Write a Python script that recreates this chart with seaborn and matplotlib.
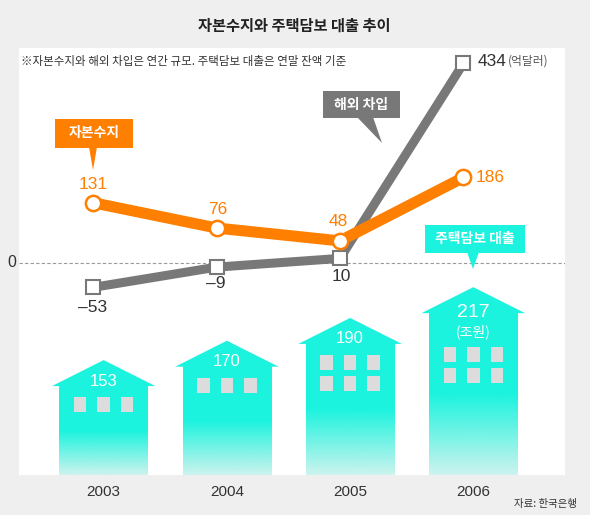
import numpy as np
import pandas as pd
import matplotlib
matplotlib.use("Agg")
import matplotlib.pyplot as plt
from matplotlib.patches import Polygon, Rectangle
from matplotlib.colors import LinearSegmentedColormap
from matplotlib import font_manager
import seaborn as sns

years = ["2003", "2004", "2005", "2006"]
capital_balance = [131, 76, 48, 186]      # 자본수지 (억달러)
foreign_borrowing = [-53, -9, 10, 434]    # 해외 차입 (억달러)
mortgage_loans = [153, 170, 190, 217]     # 주택담보 대출 (조원)
window_rows = [1, 1, 2, 2]

ORANGE = "#ff7f00"
GRAY = "#787878"
CYAN = "#1cf3de"
BG = "#efefef"
DARK = "#333333"

sns.set_theme(style="white")
kr = ["Noto Sans CJK KR", "DejaVu Sans"]
installed = {f.name for f in font_manager.fontManager.ttflist}
num = ["Liberation Sans Narrow"] if "Liberation Sans Narrow" in installed else ["Liberation Sans"]
plt.rcParams["font.family"] = kr

W, H = 590, 515
fig = plt.figure(figsize=(W / 100, H / 100), dpi=100, facecolor=BG)


def P(x, y):  # pixel position (from top-left) -> figure fraction
    return (x / W, 1 - y / H)


# panel = white area of the chart
left, right, top, bottom = 19, 565, 48, 475
rect = [left / W, 1 - bottom / H, (right - left) / W, (bottom - top) / H]

# ---- houses (mortgage loans) ----
ax_h = fig.add_axes(rect, facecolor="white")
sns.barplot(x=years, y=mortgage_loans, ax=ax_h, color=CYAN, saturation=1, width=0.72)
ax_h.set_xlim(-0.687, 3.744)
ax_h.set_ylim(75, 449.6)
y0 = ax_h.get_ylim()[0]

grad = LinearSegmentedColormap.from_list("house", [(0, "#cdf3ee"), (0.5, CYAN), (1, CYAN)])
roof_w, roof_h = 0.84, 22.8
win_w, win_h, win_dx, win_step = 0.102, 13.2, 0.191, 18.4

for i, bar in enumerate(ax_h.patches):
    x0, w, v = bar.get_x(), bar.get_width(), bar.get_height()
    bar.set_visible(False)
    ax_h.imshow(np.linspace(0, 1, 256).reshape(-1, 1), cmap=grad, origin="lower",
                extent=[x0, x0 + w, y0, v], aspect="auto", zorder=1)
    cx = x0 + w / 2
    ax_h.add_patch(Polygon([(cx - roof_w / 2, v), (cx, v + roof_h), (cx + roof_w / 2, v)],
                           closed=True, color=CYAN, lw=0, zorder=1))
    gap = 29.8 if i == len(mortgage_loans) - 1 else 9.6
    for r in range(window_rows[i]):
        wy = v - gap - r * win_step - win_h
        for k in (-1, 0, 1):
            ax_h.add_patch(Rectangle((cx + k * win_dx - win_w / 2, wy), win_w, win_h,
                                     color="#dcdcdc", lw=0, zorder=2))
    last = i == len(mortgage_loans) - 1
    ax_h.annotate(str(mortgage_loans[i]), xy=(cx, v), xytext=(0, 1 if last else 5),
                  textcoords="offset pixels", ha="center", va="center", color="white",
                  fontsize=14 if last else 12, family=num, zorder=3)
    if last:
        ax_h.annotate("(조원)", xy=(cx, v), xytext=(0, -19), textcoords="offset pixels",
                      ha="center", va="center", color="white", fontsize=10, zorder=3)

ax_h.set_ylabel("")
ax_h.set_yticks([])
ax_h.tick_params(axis="x", length=0, pad=7, labelsize=11, labelcolor=DARK)
for lab in ax_h.get_xticklabels():
    lab.set_family(num)
sns.despine(ax=ax_h, left=True, bottom=True)

# ---- lines (capital balance / foreign borrowing) ----
ax_l = fig.add_axes(rect, facecolor="none")
df = pd.DataFrame({"pos": np.arange(len(years)), "capital": capital_balance,
                   "borrow": foreign_borrowing})
sns.lineplot(data=df, x="pos", y="borrow", ax=ax_l, color=GRAY, lw=6.5, marker="s",
             markersize=10, markerfacecolor="white", markeredgecolor=GRAY,
             markeredgewidth=1.5, zorder=2)
sns.lineplot(data=df, x="pos", y="capital", ax=ax_l, color=ORANGE, lw=8, marker="o",
             markersize=11, markerfacecolor="white", markeredgecolor=ORANGE,
             markeredgewidth=1.8, zorder=3)
ax_l.set_xlim(-0.601, 3.823)
ax_l.set_ylim(-460.9, 467.4)
ax_l.axhline(0, color="#999999", lw=0.8, ls=(0, (3, 2)), zorder=1)
ax_l.axis("off")

cap_off = [(0, 18), (1, 19), (-2, 19), (12, 0)]
for i, (dx, dy) in enumerate(cap_off):
    ax_l.annotate(str(capital_balance[i]), xy=(i, capital_balance[i]), xytext=(dx, dy),
                  textcoords="offset pixels", ha="left" if dx > 5 else "center",
                  va="center", color=ORANGE, fontsize=12.5, family=num, zorder=5)

bor_off = [(-1, -20), (-1, -16), (1, -18), (14, 2)]
for i, (dx, dy) in enumerate(bor_off):
    v = foreign_borrowing[i]
    txt = str(v).replace("-", "\u2013")
    ax_l.annotate(txt, xy=(i, v), xytext=(dx, dy), textcoords="offset pixels",
                  ha="left" if dx > 5 else "center", va="center", color=DARK,
                  fontsize=12.5, family=num, zorder=5)
ax_l.annotate("(억달러)", xy=(3, foreign_borrowing[3]), xytext=(44, 2),
              textcoords="offset pixels", ha="left", va="center", color="#555555",
              fontsize=8.5, zorder=5)
ax_l.annotate("0", xy=(0, 0), xycoords=ax_l.get_yaxis_transform(), xytext=(-7, 0),
              textcoords="offset pixels", ha="center", va="center", color=DARK,
              fontsize=11.5, family=num, annotation_clip=False)


# ---- callouts ----
def callout(x0, y0, x1, y1, base, tip, label, color):
    fig.add_artist(Rectangle(P(x0, y1), (x1 - x0) / W, (y1 - y0) / H,
                             transform=fig.transFigure, color=color, lw=0))
    fig.add_artist(Polygon([P(*base[0]), P(*base[1]), P(*tip)], closed=True,
                           transform=fig.transFigure, color=color, lw=0))
    fig.text(*P((x0 + x1) / 2, (y0 + y1) / 2), label, ha="center", va="center",
             color="white", fontsize=10, fontweight="bold")


callout(55, 119, 133, 148, [(89, 147), (97, 147)], (93, 170), "자본수지", ORANGE)
callout(323, 91, 400, 118, [(357, 117), (373, 117)], (382, 143), "해외 차입", GRAY)
callout(425, 225, 525, 253, [(467, 252), (479, 252)], (473, 269), "주택담보 대출", CYAN)

# ---- titles / notes ----
fig.text(*P(294, 26), "자본수지와 주택담보 대출 추이", ha="center", va="center",
         fontsize=11, fontweight="bold", color="#222222")
fig.text(*P(21, 61), "※자본수지와 해외 차입은 연간 규모. 주택담보 대출은 연말 잔액 기준",
         ha="left", va="center", fontsize=8.3, color=DARK)
fig.text(*P(546, 504), "자료: 한국은행", ha="center", va="center", fontsize=7.5,
         color=DARK)

fig.savefig("out.png", dpi=100, facecolor=BG)
